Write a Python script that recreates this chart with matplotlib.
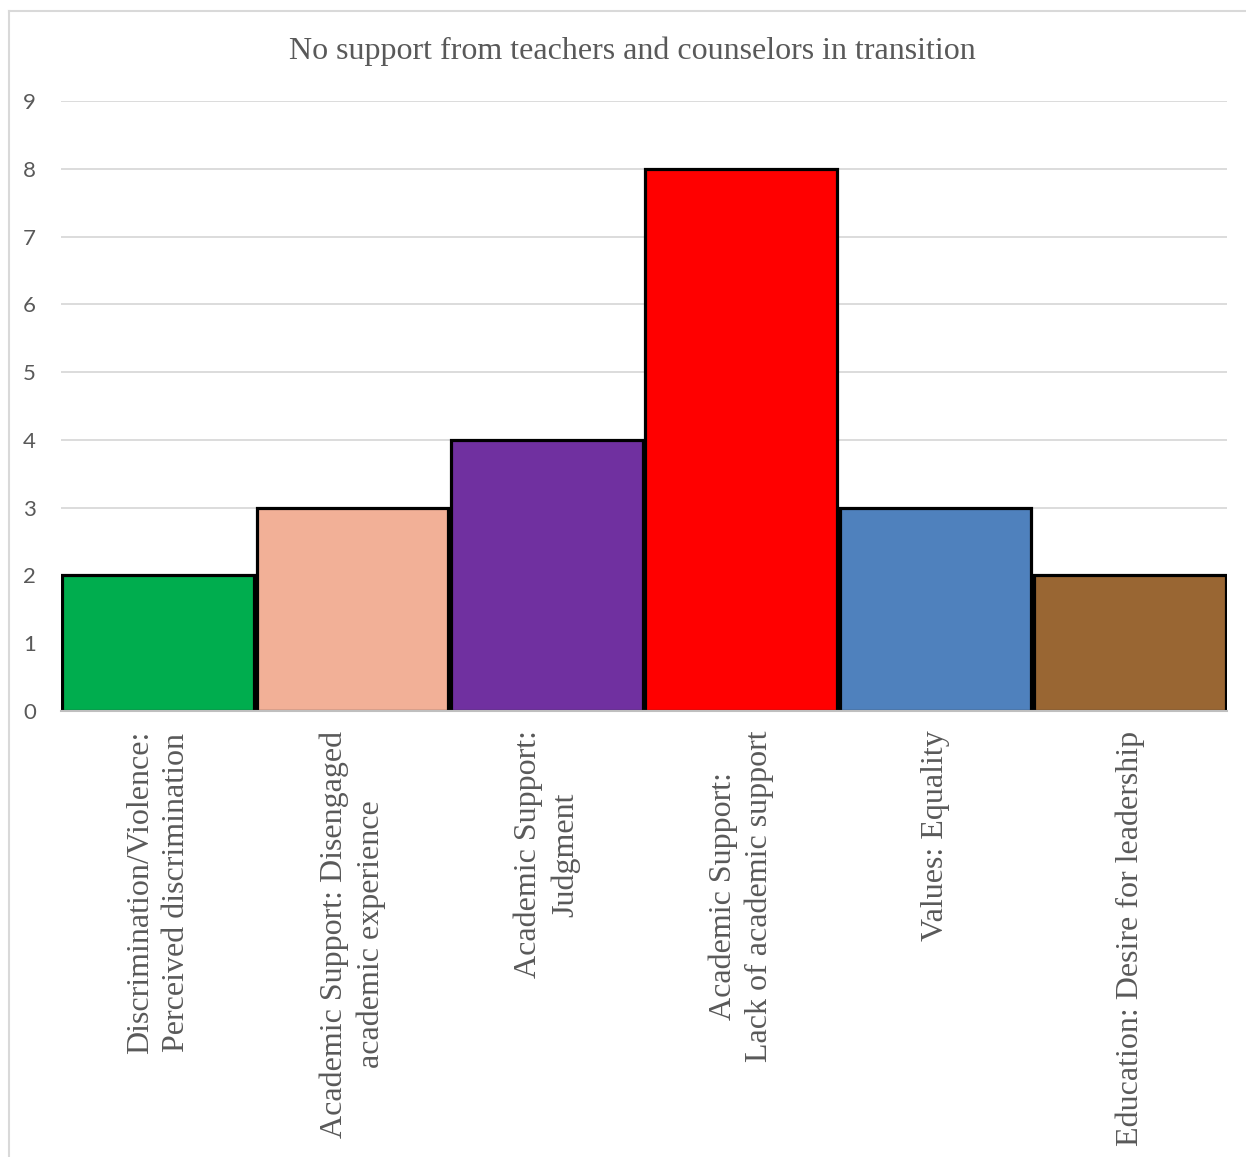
import matplotlib
matplotlib.use("Agg")
import matplotlib.pyplot as plt
from matplotlib.lines import Line2D

title = "No support from teachers and counselors in transition"
categories = [
    "Discrimination/Violence:\nPerceived discrimination",
    "Academic Support: Disengaged\nacademic experience",
    "Academic Support:\nJudgment",
    "Academic Support:\nLack of academic support",
    "Values: Equality",
    "Education: Desire for leadership",
]
values = [2, 3, 4, 8, 3, 2]
colors = ["#00AD4E", "#F2B097", "#7030A0", "#FF0000", "#4F81BD", "#996633"]
yticks = [0, 1, 2, 3, 4, 5, 6, 7, 8, 9]

W, H = 1246, 1157
fig = plt.figure(figsize=(W / 100, H / 100), dpi=100)
ax = fig.add_axes([61 / W, 1 - 711 / H, (1227 - 61) / W, (711 - 101) / H])

x = list(range(len(categories)))
ax.bar(x, values, width=0.985, color=colors, edgecolor="black", linewidth=2.3, zorder=3)
ax.set_xlim(-0.5, len(categories) - 0.5)
ax.set_ylim(0, 9)
ax.set_yticks(yticks)
ax.set_yticklabels([str(t) for t in yticks], fontfamily="Lato", fontsize=16, color="#595959")
ax.tick_params(axis="y", length=0, pad=18)
ax.tick_params(axis="x", length=0, pad=14)
ax.grid(axis="y", color="#D9D9D9", linewidth=1.3, zorder=0)
for s in ["top", "right", "left"]:
    ax.spines[s].set_visible(False)
ax.spines["bottom"].set_color("#BFBFBF")
ax.spines["bottom"].set_linewidth(1.5)
ax.spines["bottom"].set_zorder(4)

ax.set_xticks(x)
ax.set_xticklabels(categories, rotation=90, ha="center", va="top",
                   multialignment="center", fontfamily="Liberation Serif",
                   fontsize=23, color="#595959", linespacing=1.32)

fig.text(632 / W, 1 - 51 / H, title, ha="center", va="center",
         fontfamily="Liberation Serif", fontsize=23, color="#595959")

# chart border (left and top visible)
fig.add_artist(Line2D([9 / W, 9 / W], [0, 1 - 11 / H], transform=fig.transFigure,
                      color="#D9D9D9", linewidth=1.5))
fig.add_artist(Line2D([9 / W, 1], [1 - 11 / H, 1 - 11 / H], transform=fig.transFigure,
                      color="#D9D9D9", linewidth=1.5))

fig.savefig("out.png", dpi=100, facecolor="white")
